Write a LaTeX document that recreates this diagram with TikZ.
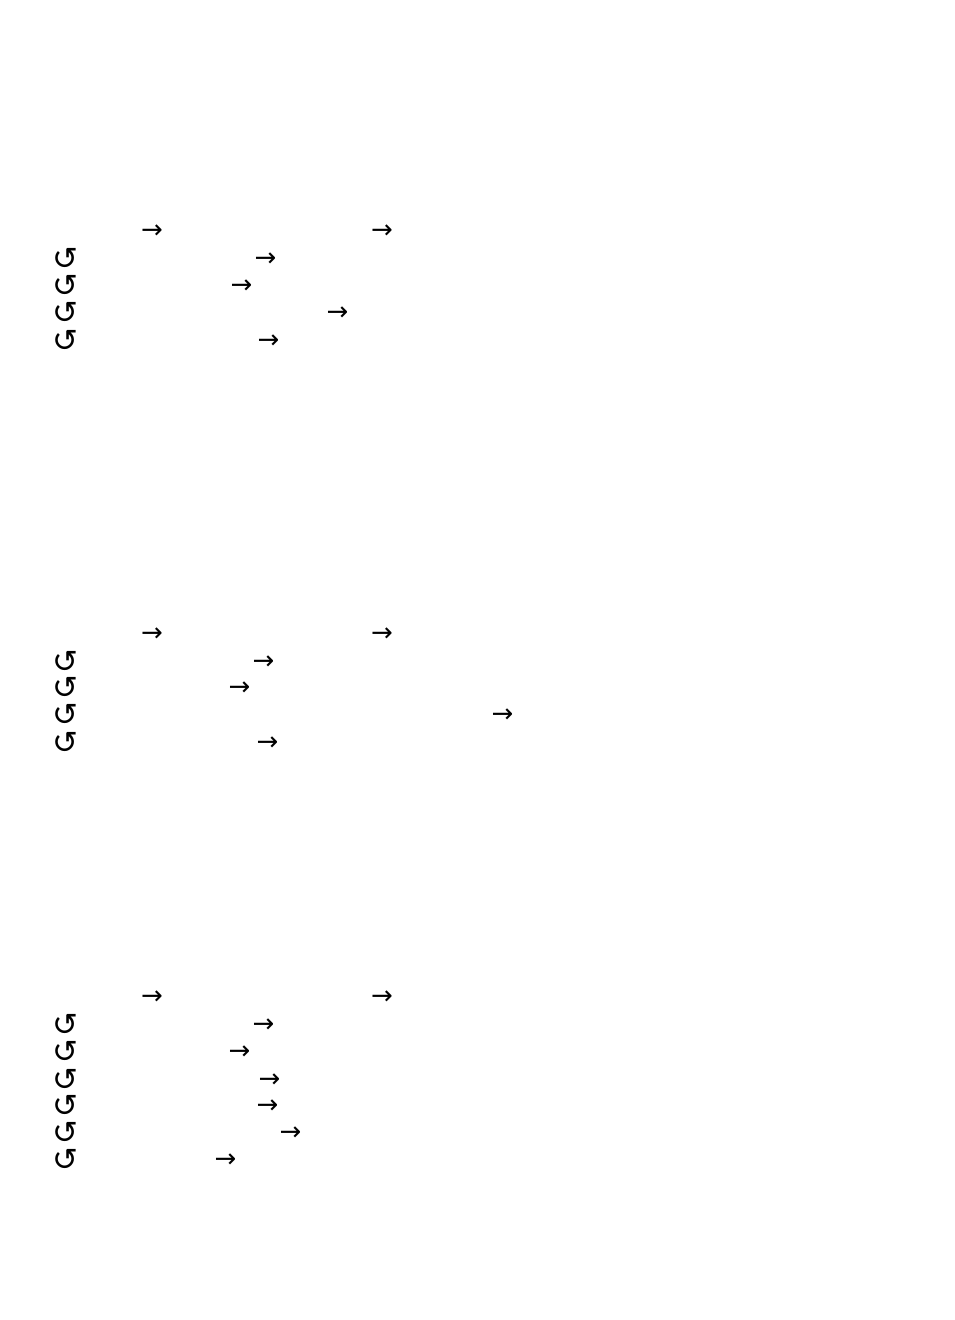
\documentclass[tikz,border=0pt]{standalone}
\usepackage{fontspec}
\newfontfamily\symfont{DejaVu Sans}
\begin{document}
\begin{tikzpicture}[x=1bp,y=-1bp,
  arr/.style={inner sep=0pt,yshift=-3bp,font=\symfont\fontsize{26bp}{30bp}\selectfont},
  rot/.style={inner sep=0pt,yshift=-2bp,font=\symfont\fontsize{31bp}{34bp}\selectfont}]
\useasboundingbox (0,0) rectangle (954,1320);
% group 1
\node[arr] (a11) at (152,229) {→};
\node[arr] (a12) at (382,229) {→};
\node[rot] (r12) at (65.5,257) {↺};
\node[arr] (a2) at (265.5,257) {→};
\node[rot] (r13) at (65.5,284) {↺};
\node[arr] (a3) at (241.5,284) {→};
\node[rot] (r14) at (65.5,311) {↺};
\node[arr] (a4) at (337.5,311) {→};
\node[rot] (r15) at (65.5,339) {↺};
\node[arr] (a5) at (268.5,339) {→};
% group 2
\node[arr] (b11) at (152,632) {→};
\node[arr] (b12) at (382,632) {→};
\node[rot] (s12) at (65.5,660) {↺};
\node[arr] (b2) at (263.5,660) {→};
\node[rot] (s13) at (65.5,686) {↺};
\node[arr] (b3) at (239.5,686) {→};
\node[rot] (s14) at (65.5,713) {↺};
\node[arr] (b4) at (502.5,713) {→};
\node[rot] (s15) at (65.5,741) {↺};
\node[arr] (b5) at (267.5,741) {→};
% group 3
\node[arr] (c11) at (152,995) {→};
\node[arr] (c12) at (382,995) {→};
\node[rot] (t12) at (65.5,1023) {↺};
\node[arr] (c2) at (263.5,1023) {→};
\node[rot] (t13) at (65.5,1050) {↺};
\node[arr] (c3) at (239.5,1050) {→};
\node[rot] (t14) at (65.5,1078) {↺};
\node[arr] (c4) at (269.5,1078) {→};
\node[rot] (t15) at (65.5,1104) {↺};
\node[arr] (c5) at (267.5,1104) {→};
\node[rot] (t16) at (65.5,1131) {↺};
\node[arr] (c6) at (290.5,1131) {→};
\node[rot] (t17) at (65.5,1158) {↺};
\node[arr] (c7) at (225.5,1158) {→};
\end{tikzpicture}
\end{document}
